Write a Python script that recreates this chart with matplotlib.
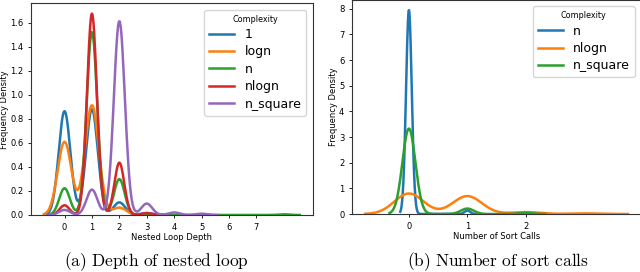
import numpy as np
import matplotlib.pyplot as plt

plt.rcParams["mathtext.fontset"] = "cm"

# (a) nested loop depth: how many programs of each complexity have each depth
loop_labels = ["1", "logn", "n", "nlogn", "n_square"]
loop_depth = [0, 1, 2, 3, 4, 5, 8]
loop_counts = [
    [107, 109, 13, 2, 0, 0, 0],
    [20, 30, 2, 0, 0, 0, 0],
    [38, 260, 51, 0, 0, 0, 1],
    [5, 104, 27, 1, 0, 0, 0],
    [4, 20, 153, 9, 2, 1, 0],
]

# (b) number of sort calls
sort_labels = ["n", "nlogn", "n_square"]
sort_calls = [0, 1, 2, 3]
sort_counts = [
    [118, 2, 0, 0],
    [64, 56, 6, 2],
    [204, 13, 3, 0],
]


def kde(values, counts, cut=3, gridsize=200):
    # gaussian kde, scott bandwidth (same thing seaborn kdeplot does)
    x = np.repeat(np.asarray(values, float), counts)
    bw = x.std(ddof=1) * len(x) ** (-1 / 5)
    grid = np.linspace(x.min() - cut * bw, x.max() + cut * bw, gridsize)
    z = (grid[:, None] - x[None, :]) / bw
    dens = np.exp(-0.5 * z ** 2).sum(1) / (len(x) * bw * np.sqrt(2 * np.pi))
    return grid, dens


def panel(ax, labels, values, counts, xlabel, ticks):
    top = 0
    for lab, c in zip(labels, counts):
        g, d = kde(values, c)
        ax.plot(g, d, lw=1.8, label=lab)
        top = max(top, d.max())
    ax.set_ylim(0, top * 1.05)
    ax.set_xticks(ticks)
    ax.tick_params(labelsize=6, length=2.5, width=0.6, pad=3)
    ax.set_xlabel(xlabel, fontsize=6, labelpad=1)
    ax.set_ylabel("Frequency Density", fontsize=6, labelpad=1)
    ax.legend(title="Complexity", fontsize=9, title_fontsize=5.8,
              loc="upper right", handlelength=2.0, labelspacing=0.35)
    for s in ax.spines.values():
        s.set_linewidth(0.8)
        s.set_color("#333333")


fig = plt.figure(figsize=(6.4, 2.72), dpi=100)
ax1 = fig.add_axes([0.0484, 0.2096, 0.440, 0.7776])
ax2 = fig.add_axes([0.550, 0.2132, 0.4516, 0.787])

panel(ax1, loop_labels, loop_depth, loop_counts, "Nested Loop Depth", range(8))
panel(ax2, sort_labels, sort_calls, sort_counts, "Number of Sort Calls", range(3))

fig.text(0.245, 0.037, r"$\mathrm{(a)\ Depth\ of\ nested\ loop}$",
         ha="center", va="center", fontsize=12.5)
fig.text(0.778, 0.037, r"$\mathrm{(b)\ Number\ of\ sort\ calls}$",
         ha="center", va="center", fontsize=12.5)

fig.savefig("out.png", dpi=100)
